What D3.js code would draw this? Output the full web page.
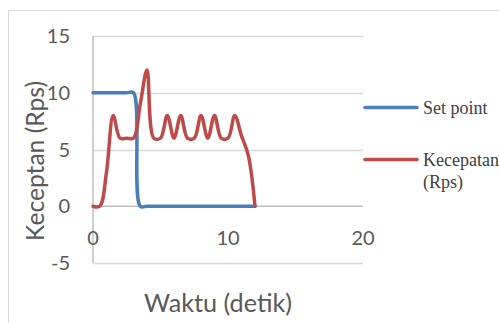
<!DOCTYPE html>
<html>
<head>
<meta charset="utf-8">
<script src="https://cdn.jsdelivr.net/npm/d3@7"></script>
<style>
  html, body { margin: 0; padding: 0; background: #fff; overflow: hidden; }
  svg { display: block; }
</style>
</head>
<body>
<svg id="chart" width="499" height="323"></svg>
<script>
// Time samples (seconds) and measured series
const time = [0, 0.5, 1, 1.5, 2, 2.5, 3, 3.5, 4, 4.5, 5, 5.5, 6, 6.5, 7, 7.5, 8, 8.5, 9, 9.5, 10, 10.5, 11, 11.5, 12];
const setPoint = [10, 10, 10, 10, 10, 10, 10, 0, 0, 0, 0, 0, 0, 0, 0, 0, 0, 0, 0, 0, 0, 0, 0, 0, 0];
const kecepatan = [0, 0, 3, 8, 6, 6, 6, 9, 12, 6, 6, 8, 6, 8, 6, 6, 8, 6, 8, 6, 6, 8, 6.2, 4.5, 0];

const xTicks = [0, 10, 20];
const yTicks = [-5, 0, 5, 10, 15];

const seriesNames = ["Set point", "Kecepatan (Rps)"];
const seriesColors = ["#4A7EBB", "#BE4B48"];

const svg = d3.select("#chart");

// Chart frame
svg.append("rect")
  .attr("x", 8.5).attr("y", 10.5)
  .attr("width", 520).attr("height", 340)
  .attr("fill", "#fff").attr("stroke", "#D9D9D9").attr("stroke-width", 1);

const x = d3.scaleLinear().domain([0, 20]).range([93, 363]);
const y = d3.scaleLinear().domain([-5, 15]).range([263, 36]);

// Horizontal gridlines
svg.append("g")
  .selectAll("line")
  .data(yTicks.filter(v => v !== 0))
  .join("line")
  .attr("x1", x(0)).attr("x2", x(20))
  .attr("y1", d => Math.round(y(d)) + 0.5).attr("y2", d => Math.round(y(d)) + 0.5)
  .attr("stroke", "#D9D9D9").attr("stroke-width", 1.5);

// Axis lines (vertical at x=0, horizontal at y=0)
svg.append("line")
  .attr("x1", x(0)).attr("x2", x(0))
  .attr("y1", y(15)).attr("y2", y(-5))
  .attr("stroke", "#BFBFBF").attr("stroke-width", 1.5);
svg.append("line")
  .attr("x1", x(0)).attr("x2", x(20))
  .attr("y1", y(0)).attr("y2", y(0))
  .attr("stroke", "#BFBFBF").attr("stroke-width", 1.5);

const tickFont = "Lato, 'Open Sans', sans-serif";

// Y tick labels
svg.append("g")
  .selectAll("text")
  .data(yTicks)
  .join("text")
  .attr("x", 70)
  .attr("y", d => y(d))
  .attr("dy", "0.36em")
  .attr("text-anchor", "end")
  .attr("font-family", tickFont)
  .attr("font-size", 20)
  .attr("fill", "#595959")
  .text(d => d);

// X tick labels, placed just under the zero line
svg.append("g")
  .selectAll("text")
  .data(xTicks)
  .join("text")
  .attr("x", d => x(d))
  .attr("y", 238)
  .attr("dy", "0.36em")
  .attr("text-anchor", "middle")
  .attr("font-family", tickFont)
  .attr("font-size", 20)
  .attr("fill", "#595959")
  .text(d => d);

// Size a label so it spans the given width
function fitText(sel, width) {
  const w = sel.node().getComputedTextLength();
  const fs = parseFloat(sel.attr("font-size"));
  sel.attr("font-size", fs * width / w);
}

// Axis titles
const yTitle = svg.append("text")
  .attr("transform", "translate(35,161) rotate(-90)")
  .attr("dy", "0.35em")
  .attr("text-anchor", "middle")
  .attr("font-family", tickFont)
  .attr("font-size", 20)
  .attr("fill", "#595959")
  .text("Keceptan (Rps)");
fitText(yTitle, 160);

const xTitle = svg.append("text")
  .attr("x", 218).attr("y", 312)
  .attr("text-anchor", "middle")
  .attr("font-family", tickFont)
  .attr("font-size", 20)
  .attr("fill", "#595959")
  .text("Waktu (detik)");
fitText(xTitle, 148);

// Smoothed series lines
const line = d3.line()
  .x((d, i) => x(time[i]))
  .y(d => y(d))
  .curve(d3.curveCatmullRom.alpha(0.5));

[setPoint, kecepatan].forEach((vals, k) => {
  svg.append("path")
    .datum(vals)
    .attr("d", line)
    .attr("fill", "none")
    .attr("stroke", seriesColors[k])
    .attr("stroke-width", 3.5)
    .attr("stroke-linejoin", "round")
    .attr("stroke-linecap", "round");
});

// Legend
const legendY = [107.5, 159.5];
const legend = svg.append("g");
seriesNames.forEach((name, k) => {
  legend.append("line")
    .attr("x1", 365).attr("x2", 417)
    .attr("y1", legendY[k]).attr("y2", legendY[k])
    .attr("stroke", seriesColors[k])
    .attr("stroke-width", 3.5)
    .attr("stroke-linecap", "round");
  const t = legend.append("text")
    .attr("x", 423).attr("y", legendY[k] + 6)
    .attr("font-family", "'Liberation Serif', 'Times New Roman', serif")
    .attr("font-size", 18)
    .attr("fill", "#404040");
  const parts = k === 1 ? ["Kecepatan", "(Rps)"] : [name];
  parts.forEach((p, j) => {
    t.append("tspan").attr("x", 423).attr("dy", j === 0 ? 0 : 22).text(p);
  });
});
</script>
</body>
</html>
